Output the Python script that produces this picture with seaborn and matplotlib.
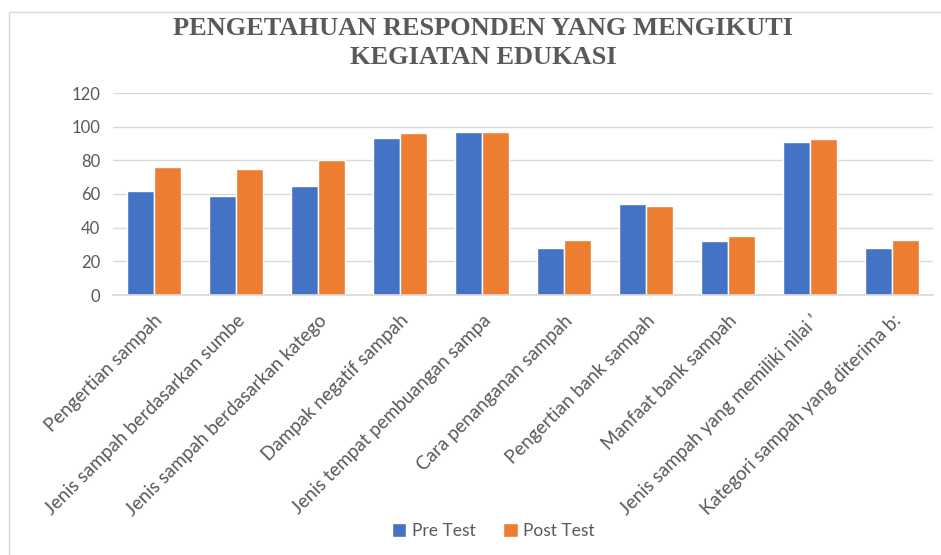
import matplotlib
matplotlib.use("Agg")
import matplotlib.pyplot as plt
import seaborn as sns
import pandas as pd
from matplotlib.patches import Rectangle

categories = [
    "Pengertian sampah",
    "Jenis sampah berdasarkan sumbe",
    "Jenis sampah berdasarkan katego",
    "Dampak negatif sampah",
    "Jenis tempat pembuangan sampa",
    "Cara penanganan sampah",
    "Pengertian bank sampah",
    "Manfaat bank sampah",
    "Jenis sampah yang memiliki nilai \u2019",
    "Kategori sampah yang diterima b:",
]
pre_test = [62, 59, 65, 93, 97, 28, 54, 32, 91, 28]
post_test = [76, 75, 80, 96, 97, 32.5, 53, 35, 92.5, 32.5]
series_names = ["Pre Test", "Post Test"]
title = "PENGETAHUAN RESPONDEN YANG MENGIKUTI\nKEGIATAN EDUKASI"
yticks = [0, 20, 40, 60, 80, 100, 120]

df = pd.DataFrame({
    "cat": categories * 2,
    "val": pre_test + post_test,
    "series": [series_names[0]] * len(categories) + [series_names[1]] * len(categories),
})

sns.set_theme(style="white")
plt.rcParams["font.family"] = ["Lato", "DejaVu Sans"]

fig = plt.figure(figsize=(9.41, 5.55), dpi=100)
ax = fig.add_axes([113 / 941, 1 - 295 / 555, (933 - 113) / 941, (295 - 93) / 555])

sns.barplot(data=df, x="cat", y="val", hue="series", order=categories,
            hue_order=series_names, palette=["#4472C4", "#ED7D31"],
            width=0.66, gap=0, saturation=1, ax=ax, legend=True)

ax.set_ylim(0, 120)
ax.set_yticks(yticks)
ax.set_xlim(-0.5, len(categories) - 0.5)
ax.yaxis.grid(True, color="#d9d9d9", linewidth=1)
ax.set_axisbelow(True)
for s in ["top", "right", "left"]:
    ax.spines[s].set_visible(False)
ax.spines["bottom"].set_color("#d9d9d9")
ax.set_xlabel("")
ax.set_ylabel("")
ax.tick_params(axis="y", length=0, labelsize=12, labelcolor="#595959", pad=9)
ax.tick_params(axis="x", length=0, labelsize=13.5, labelcolor="#595959", pad=12)
plt.setp(ax.get_xticklabels(), rotation=45, ha="right", rotation_mode="anchor")

fig.text(483 / 941, 1 - 43 / 555, title, ha="center", va="center",
         fontsize=19, fontweight="bold", color="#595959",
         family="Liberation Serif", linespacing=1.3)

leg = ax.legend(loc="center", bbox_to_anchor=(493 / 941, 1 - 531 / 555),
                bbox_transform=fig.transFigure, ncol=2, frameon=False,
                fontsize=12.5, handlelength=0.85, handleheight=0.85,
                columnspacing=1.6, handletextpad=0.3)
for t in leg.get_texts():
    t.set_color("#595959")

fig.patches.append(Rectangle((9 / 941, -0.05), 1.2, 1 - 12 / 555 + 0.05,
                             transform=fig.transFigure, fill=False,
                             edgecolor="#d9d9d9", linewidth=1, zorder=-1))

fig.savefig("out.png", dpi=100, facecolor="white")
